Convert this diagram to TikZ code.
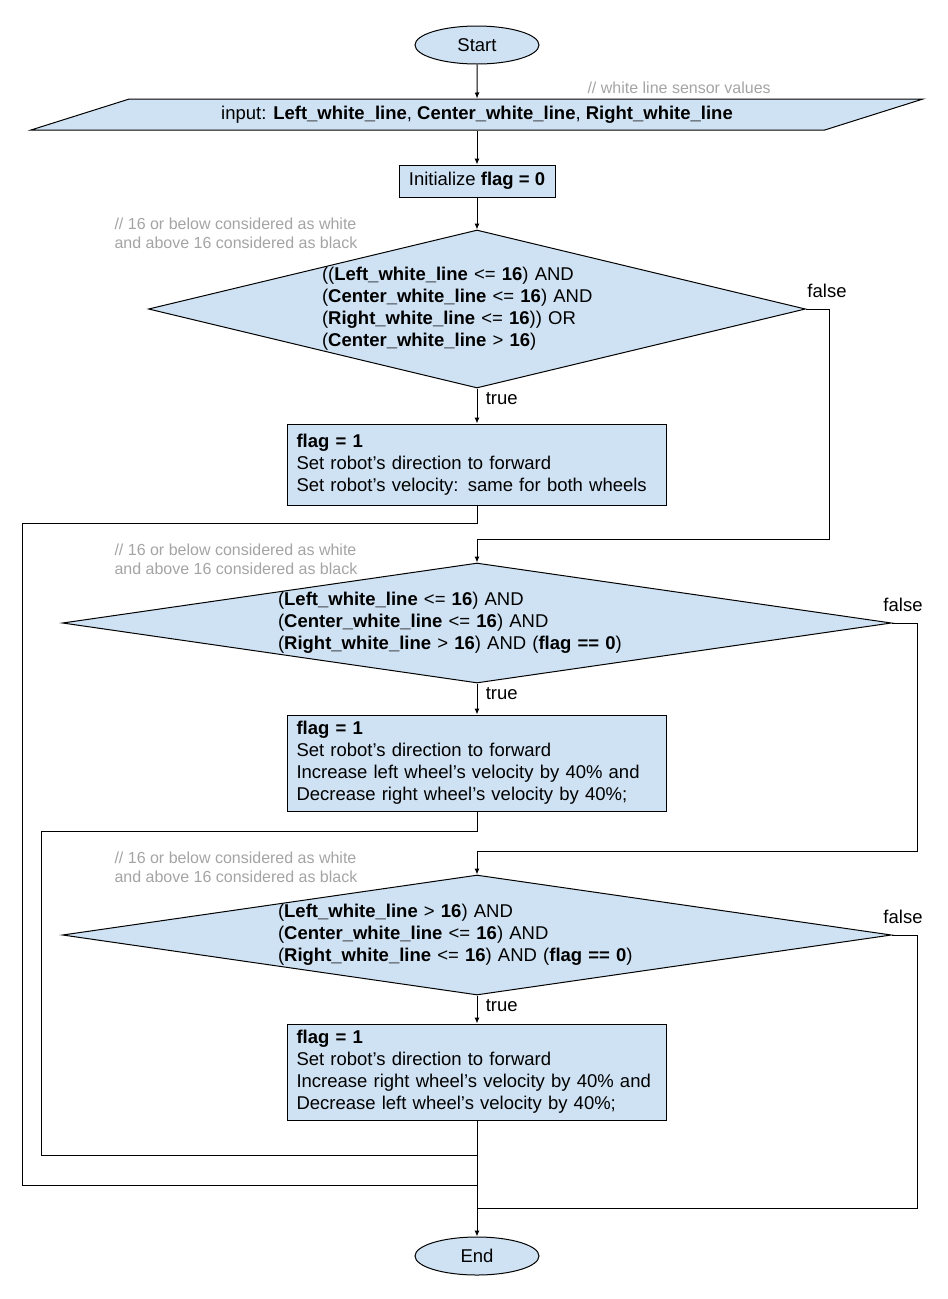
\documentclass[tikz,border=0pt]{standalone}
\usepackage{fontspec}
\setmainfont{Liberation Sans}
\usetikzlibrary{shapes.geometric, arrows.meta}
\definecolor{boxblue}{HTML}{CFE2F3}
\definecolor{notegray}{HTML}{A4A4A4}

\begin{document}
\begin{tikzpicture}[x=1pt, y=-1pt,
    every node/.style={font=\fontsize{18.5}{22}\selectfont},
    term/.style={ellipse, draw, line width=1pt, fill=boxblue, minimum width=124pt, minimum height=38pt, inner sep=0pt},
    inbox/.style={trapezium, trapezium left angle=10, trapezium right angle=170, trapezium stretches body, draw, line width=1pt, fill=boxblue, minimum width=892pt, minimum height=31pt, inner sep=0pt},
    proc/.style={rectangle, draw, line width=1pt, fill=boxblue, align=left, inner xsep=9pt, inner ysep=0pt},
    cond/.style={diamond, draw, line width=1pt, fill=boxblue, align=left, inner sep=0pt},
    note/.style={font=\fontsize{16}{19}\selectfont, text=notegray, align=left, anchor=west},
    conn/.style={draw, line width=1pt},
    flow/.style={conn, -{Latex[length=6pt,width=5pt]}},
    truelbl/.style={pos=0, anchor=north west, xshift=5pt},
    falselbl/.style={above, yshift=7pt}]
    \useasboundingbox (0,0) rectangle (948,1299);

    % Start / input / init
    \node[term] (start) at (477,45) {Start};
    \node[inbox] (inp) at (477,114.5) {input: \textbf{Left\_white\_line}, \textbf{Center\_white\_line}, \textbf{Right\_white\_line}};
    \node[note] (n0) at (584,88) {// white line sensor values};
    \node[proc, minimum width=156pt, minimum height=32pt, inner xsep=0pt, align=center] (init) at (477,181) {Initialize \textbf{flag = 0}};

    % First check
    \node[note] (n1) at (111,233.5) {// 16 or below considered as white\\and above 16 considered as black};
    \node[cond, aspect=4.16, minimum width=657pt, minimum height=158pt, text width=310pt] (d1) at (477,309)
        {((\textbf{Left\_white\_line} <= \textbf{16}) AND\\
         (\textbf{Center\_white\_line} <= \textbf{16}) AND\\
         (\textbf{Right\_white\_line} <= \textbf{16})) OR\\
         (\textbf{Center\_white\_line} > \textbf{16})};
    \node[proc, minimum width=379pt, minimum height=81pt, text width=361pt] (b1) at (477,464.5)
        {\textbf{flag = 1}\\
         Set robot’s direction to forward\\
         Set robot’s velocity: same for both wheels};

    % Second check
    \node[note] (n2) at (111,559.5) {// 16 or below considered as white\\and above 16 considered as black};
    \node[cond, aspect=6.91, minimum width=829pt, minimum height=120pt, text width=398pt] (d2) at (477,623)
        {(\textbf{Left\_white\_line} <= \textbf{16}) AND\\
         (\textbf{Center\_white\_line} <= \textbf{16}) AND\\
         (\textbf{Right\_white\_line} > \textbf{16}) AND (\textbf{flag == 0})};
    \node[proc, minimum width=379pt, minimum height=96pt, text width=361pt] (b2) at (477,763)
        {\textbf{flag = 1}\\
         Set robot’s direction to forward\\
         Increase left wheel’s velocity by 40\% and\\
         Decrease right wheel’s velocity by 40\%;};

    % Third check
    \node[note] (n3) at (111,867.5) {// 16 or below considered as white\\and above 16 considered as black};
    \node[cond, aspect=6.91, minimum width=829pt, minimum height=120pt, text width=398pt] (d3) at (477,935)
        {(\textbf{Left\_white\_line} > \textbf{16}) AND\\
         (\textbf{Center\_white\_line} <= \textbf{16}) AND\\
         (\textbf{Right\_white\_line} <= \textbf{16}) AND (\textbf{flag == 0})};
    \node[proc, minimum width=379pt, minimum height=96pt, text width=361pt] (b3) at (477,1072)
        {\textbf{flag = 1}\\
         Set robot’s direction to forward\\
         Increase right wheel’s velocity by 40\% and\\
         Decrease left wheel’s velocity by 40\%;};

    \node[term] (stop) at (477,1256) {End};

    % Joints
    \coordinate (j1) at (829,539);
    \coordinate (j2) at (917,851);
    \coordinate (j3) at (917,1208);
    \coordinate (m3) at (477,1208);
    \coordinate (l1) at (22,523);
    \coordinate (m1) at (477,1185);
    \coordinate (l2) at (41,831);
    \coordinate (m2) at (477,1155);

    % Connectors
    \draw[flow] (start) -- (inp);
    \draw[flow] (inp) -- (init);
    \draw[flow] (init) -- (d1);
    \draw[flow] (d1) -- node[truelbl] {true} (b1);
    \draw[flow] (d1.east) -| node[falselbl, xshift=-2pt] {false} (j1) -| (d2.north);
    \draw[conn] (b1.south) |- (l1) |- (m1);
    \draw[flow] (d2) -- node[truelbl] {true} (b2);
    \draw[flow] (d2.east) -| node[falselbl, xshift=-14pt] {false} (j2) -| (d3.north);
    \draw[conn] (b2.south) |- (l2) |- (m2);
    \draw[flow] (d3) -- node[truelbl] {true} (b3);
    \draw[conn] (d3.east) -| node[falselbl, xshift=-14pt] {false} (j3) -- (m3);
    \draw[flow] (b3) -- (stop);
\end{tikzpicture}
\end{document}
